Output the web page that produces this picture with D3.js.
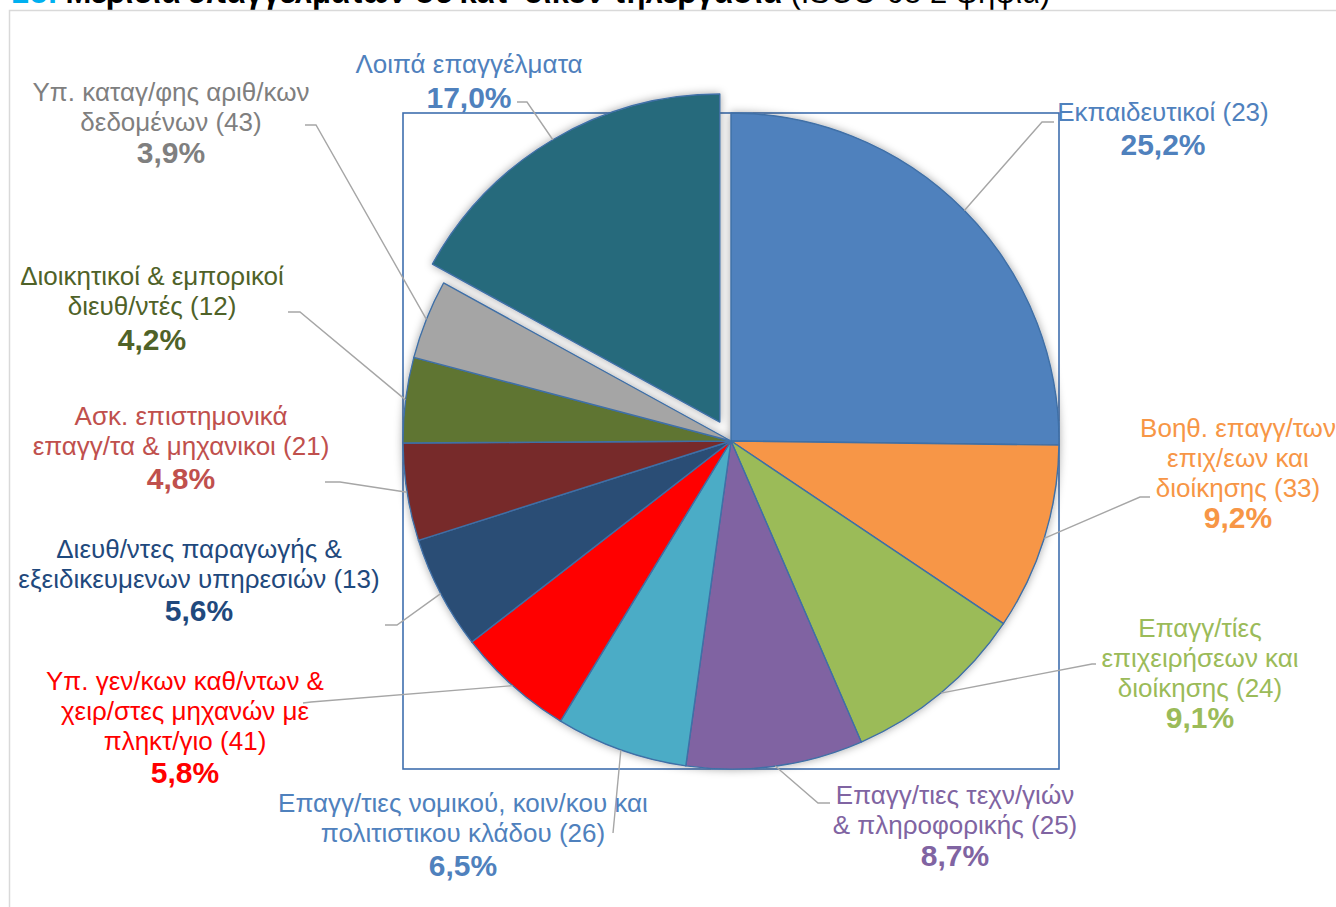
<!DOCTYPE html>
<html>
<head>
<meta charset="utf-8">
<script src="https://cdn.jsdelivr.net/npm/d3@7"></script>
<style>
  body { margin: 0; background: #fff; }
  svg { display: block; font-family: "Liberation Sans", Arial, sans-serif; }
</style>
</head>
<body>
<svg id="chart" width="1336" height="907"></svg>
<script>
// Occupation groups (ISCO-08, 2 digits), clockwise from 12 o'clock
const categories = [
  "Εκπαιδευτικοί (23)",
  "Βοηθ. επαγγ/των επιχ/εων και διοίκησης (33)",
  "Επαγγ/τίες επιχειρήσεων και διοίκησης (24)",
  "Επαγγ/τιες τεχν/γιών & πληροφορικής (25)",
  "Επαγγ/τιες νομικού, κοιν/κου και πολιτιστικου κλάδου (26)",
  "Υπ. γεν/κων καθ/ντων & χειρ/στες μηχανών με πληκτ/γιο (41)",
  "Διευθ/ντες παραγωγής & εξειδικευμενων υπηρεσιών (13)",
  "Ασκ. επιστημονικά επαγγ/τα & μηχανικοι (21)",
  "Διοικητικοί & εμπορικοί διευθ/ντές (12)",
  "Υπ. καταγ/φης αριθ/κων δεδομένων (43)",
  "Λοιπά επαγγέλματα"
];

// Wrapped label lines for each category
const labelLines = [
  ["Εκπαιδευτικοί (23)"],
  ["Βοηθ. επαγγ/των", "επιχ/εων και", "διοίκησης (33)"],
  ["Επαγγ/τίες", "επιχειρήσεων και", "διοίκησης (24)"],
  ["Επαγγ/τιες τεχν/γιών", "& πληροφορικής (25)"],
  ["Επαγγ/τιες νομικού, κοιν/κου και", "πολιτιστικου κλάδου (26)"],
  ["Υπ. γεν/κων καθ/ντων &", "χειρ/στες μηχανών με", "πληκτ/γιο (41)"],
  ["Διευθ/ντες παραγωγής &", "εξειδικευμενων υπηρεσιών (13)"],
  ["Ασκ. επιστημονικά", "επαγγ/τα & μηχανικοι (21)"],
  ["Διοικητικοί & εμπορικοί", "διευθ/ντές (12)"],
  ["Υπ. καταγ/φης αριθ/κων", "δεδομένων (43)"],
  ["Λοιπά επαγγέλματα"]
];

// Share of home-based teleworkers (%)
const shares = [25.2, 9.2, 9.1, 8.7, 6.5, 5.8, 5.6, 4.8, 4.2, 3.9, 17.0];

const sliceColors = ["#4F81BD", "#F79646", "#9BBB59", "#8064A2", "#4BACC6", "#FF0000",
                     "#2C4D75", "#772C2A", "#5F7530", "#A5A5A5", "#276A7C"];
const labelColors = ["#4F81BD", "#F79646", "#9BBB59", "#8064A2", "#4F81BD", "#FF0000",
                     "#1F497D", "#C0504D", "#4F6228", "#7F7F7F", "#4F81BD"];

// Label placement: centre x, first baseline, percent baseline, leader start and knee
const labelLayout = [
  { x: 1163, y: 121, py: 155, start: [1054, 122], knee: [1042, 122] },
  { x: 1238, y: 437, py: 528, start: [1150, 497], knee: [1140, 497] },
  { x: 1200, y: 637, py: 728, start: [1096, 664], knee: [1092, 664] },
  { x: 955,  y: 804, py: 866, start: [830, 803],  knee: [818, 803] },
  { x: 463,  y: 812, py: 876, start: [613, 833],  knee: [613, 833] },
  { x: 185,  y: 690, py: 783, start: [303, 703],  knee: [311, 702] },
  { x: 199,  y: 558, py: 621, start: [385, 625],  knee: [397, 625] },
  { x: 181,  y: 425, py: 489, start: [325, 482],  knee: [340, 482] },
  { x: 152,  y: 285, py: 350, start: [288, 312],  knee: [300, 312] },
  { x: 171,  y: 101, py: 163, start: [305, 125],  knee: [316, 125] },
  { x: 469,  y: 73,  py: 108, start: [517, 102],  knee: [527, 102] }
];

const explodedIndex = 10;
const explodeDist = 22;

const svg = d3.select("#chart");
const cx = 731, cy = 441, radius = 328;

// Shadow under the pie
const defs = svg.append("defs");
const f = defs.append("filter").attr("id", "pieShadow")
  .attr("x", "-20%").attr("y", "-20%").attr("width", "140%").attr("height", "140%");
f.append("feDropShadow").attr("dx", 0).attr("dy", 0).attr("stdDeviation", 4)
  .attr("flood-color", "#000").attr("flood-opacity", 0.35);

// Title (runs off the top of the page)
const title = svg.append("text").attr("x", 12).attr("y", 3)
  .attr("font-size", 31).attr("fill", "#000");
title.append("tspan").attr("font-weight", "bold").attr("fill", "#00B0F0").text("2ο. ");
title.append("tspan").attr("font-weight", "bold").text("Μερίδια επαγγελμάτων σε κατ’ οίκον τηλεργασία");
title.append("tspan").text(" (ISCO-08 2 ψηφία)");

// Chart area border
svg.append("rect").attr("x", 9.5).attr("y", 10.5).attr("width", 1340).attr("height", 910)
  .attr("fill", "none").attr("stroke", "#D9D9D9").attr("stroke-width", 1.5);

// Plot area border
svg.append("rect").attr("x", cx - radius).attr("y", cy - radius)
  .attr("width", radius * 2).attr("height", radius * 2)
  .attr("fill", "none").attr("stroke", "#3F6FAE").attr("stroke-width", 1.6);

const pie = d3.pie().sort(null).value(d => d).startAngle(0).endAngle(2 * Math.PI);
const arcs = pie(shares);
const arc = d3.arc().innerRadius(0).outerRadius(radius);
const edgeArc = d3.arc().innerRadius(radius).outerRadius(radius);

function offsetOf(d, i) {
  if (i !== explodedIndex) return [0, 0];
  const a = (d.startAngle + d.endAngle) / 2;
  return [Math.sin(a) * explodeDist, -Math.cos(a) * explodeDist];
}

const g = svg.append("g").attr("transform", `translate(${cx},${cy})`);
g.append("g").attr("filter", "url(#pieShadow)")
  .selectAll("path").data(arcs).join("path")
  .attr("transform", (d, i) => { const o = offsetOf(d, i); return `translate(${o[0]},${o[1]})`; })
  .attr("d", arc)
  .attr("fill", (d, i) => sliceColors[i])
  .attr("stroke", "#3F6FA6")
  .attr("stroke-width", 1.4)
  .attr("stroke-linejoin", "round");

// Leader lines
const leaders = svg.append("g").attr("fill", "none").attr("stroke", "#A6A6A6").attr("stroke-width", 1.4);
arcs.forEach((d, i) => {
  const o = offsetOf(d, i);
  const e = edgeArc.centroid(d);
  const end = [cx + e[0] + o[0], cy + e[1] + o[1]];
  const L = labelLayout[i];
  leaders.append("path").attr("d", d3.line()([L.start, L.knee, end]));
});

// Labels
const fmt = v => d3.format(".1f")(v).replace(".", ",") + "%";
const labels = svg.append("g").attr("text-anchor", "middle");
arcs.forEach((d, i) => {
  const L = labelLayout[i];
  const t = labels.append("g").attr("fill", labelColors[i]);
  labelLines[i].forEach((line, k) => {
    t.append("text").attr("x", L.x).attr("y", L.y + k * 30)
      .attr("font-size", 26).text(line);
  });
  t.append("text").attr("x", L.x).attr("y", L.py)
    .attr("font-size", 30).attr("font-weight", "bold").text(fmt(d.data));
});
</script>
</body>
</html>
